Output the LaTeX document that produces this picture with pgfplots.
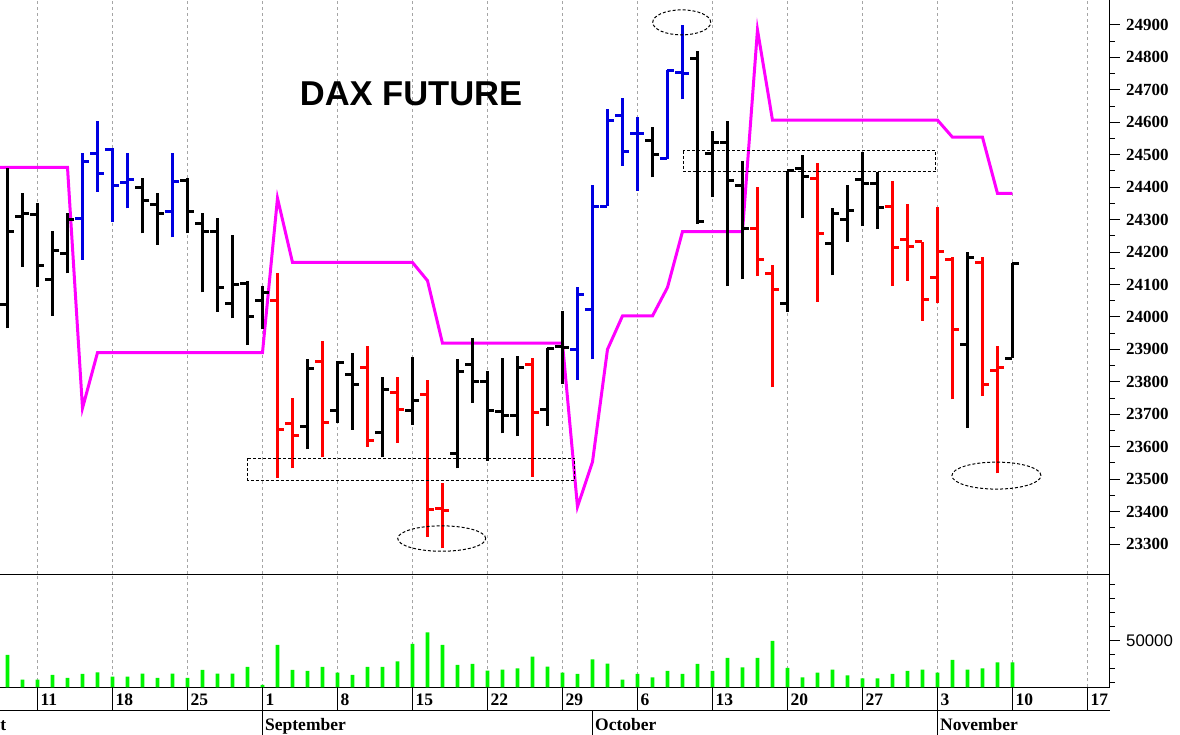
\documentclass[border=0pt]{standalone}
\usepackage{fontspec}
\setmainfont{Liberation Serif}
\newfontfamily\arial{Liberation Sans}
\usepackage{pgfplots}
\usepackage{pgfplotstable}
\pgfplotsset{compat=1.18}

\definecolor{barblue}{RGB}{0,0,225}
\definecolor{barred}{RGB}{255,0,0}
\definecolor{stopmag}{RGB}{255,0,255}
\definecolor{volgreen}{RGB}{0,245,0}
\definecolor{gridgray}{RGB}{165,165,165}

\pgfdeclareplotmark{tickL}{\pgfpathmoveto{\pgfqpoint{-7pt}{0pt}}\pgfpathlineto{\pgfqpoint{0pt}{0pt}}\pgfusepathqstroke}
\pgfdeclareplotmark{tickR}{\pgfpathmoveto{\pgfqpoint{0pt}{0pt}}\pgfpathlineto{\pgfqpoint{7pt}{0pt}}\pgfusepathqstroke}

\pgfplotstableread{
k O H L C
0 24037 24458 23965 24263
1 24310 24381 24155 24318
2 24317 24352 24091 24158
3 24117 24266 24003 24206
4 24196 24319 24134 24299
9 24400 24427 24258 24360
10 24348 24383 24222 24319
12 24422 24427 24258 24325
13 24289 24319 24076 24263
14 24263 24304 24016 24091
15 24040 24253 23996 24101
16 24104 24112 23913 24001
17 24052 24095 23962 24075
20 23662 23869 23592 23842
22 23711 23865 23674 23859
23 23824 23890 23653 23793
25 23643 23816 23567 23775
27 23711 23877 23667 23742
30 23579 23869 23533 23831
31 23855 23934 23736 23800
32 23800 23834 23557 23711
33 23710 23872 23641 23695
34 23695 23880 23633 23845
36 23715 23903 23664 23903
37 23910 24019 23793 23906
43 24543 24585 24430 24502
46 24797 24821 24287 24294
47 24503 24574 24369 24538
48 24537 24605 24095 24422
49 24404 24482 24116 24273
52 24042 24451 24016 24451
53 24458 24499 24304 24434
55 24225 24335 24129 24319
56 24299 24407 24232 24328
57 24425 24509 24280 24412
58 24410 24448 24270 24338
64 23914 24201 23657 24184
67 23872 24165 23872 24165
}\blackbars

\pgfplotstableread{
k O H L C
18 24050 24136 23505 23653
19 23672 23749 23533 23636
21 23862 23927 23567 23674
24 23845 23910 23600 23618
26 23766 23816 23612 23715
28 23762 23806 23323 23407
29 23410 23489 23287 23403
35 23852 23872 23507 23705
50 24273 24402 24126 24178
51 24134 24160 23783 24085
54 24427 24474 24047 24258
59 24342 24420 24095 24215
60 24239 24348 24112 24217
61 24232 24232 23989 24054
62 24122 24340 24042 24201
63 24176 24186 23746 23960
65 24167 24186 23756 23793
66 23834 23910 23518 23845
}\redbars

\pgfplotstableread{
k O H L C
5 24304 24504 24176 24479
6 24504 24605 24386 24441
7 24515 24522 24294 24405
8 24414 24504 24335 24425
11 24325 24504 24245 24417
38 23900 24091 23806 24068
39 24022 24407 23869 24340
40 24342 24640 24342 24605
41 24620 24674 24466 24510
42 24564 24617 24389 24564
44 24489 24761 24486 24761
45 24753 24900 24671 24749
}\bluebars

\pgfplotstableread{
k S
-1 24461
0 24461
1 24461
2 24461
3 24461
4 24461
5 23719
6 23890
17 23890
18 24366
19 24168
27 24168
28 24112
29 23919
37 23919
38 23415
39 23553
40 23900
41 24003
43 24003
44 24091
45 24263
49 24263
50 24885
51 24607
62 24607
63 24554
65 24554
66 24381
67 24381
}\stopline

\pgfplotstableread{
k V
0 39750
1 22055
2 22055
3 25400
4 23250
5 26120
6 27310
7 24210
8 24210
9 26360
10 23250
11 26360
12 23250
13 28990
14 26360
15 26360
16 31140
17 18230
18 46920
19 28990
20 28270
21 31140
22 27080
23 25400
24 31140
25 31140
26 35200
27 47640
28 56010
29 46920
30 32580
31 33290
32 28510
33 29230
34 30180
35 38550
36 31380
37 27080
38 26120
39 36640
40 33530
41 22055
42 26120
43 23730
44 28270
45 26120
46 33290
47 28270
48 37600
49 30900
50 37600
51 49790
52 30420
53 23730
54 27080
55 29230
56 25160
57 23010
58 23010
59 26120
60 28270
61 29230
62 27080
63 36160
64 29230
65 30180
66 34490
67 34490
}\volume

\pgfplotsset{
  op/.style={color=#1, only marks, mark=tickL, mark options={draw=#1, line width=3pt}, forget plot},
  cl/.style={color=#1, only marks, mark=tickR, mark options={draw=#1, line width=3pt}, forget plot},
  hl/.style={color=#1, draw=none, mark=none, forget plot, error bars/.cd, y dir=plus, y explicit, error mark=none, error bar style={draw=#1, line width=3.8pt}},
}
\tikzset{
  annot/.style={draw=black, line width=1pt, dash pattern=on 3pt off 2pt},
  datelab/.style={anchor=base west, inner sep=0pt, xshift=3pt, yshift=-17.7pt, font=\bfseries\fontsize{17.5}{19}\selectfont},
  monthlab/.style={anchor=base west, inner sep=0pt, xshift=2.5pt, yshift=-43.4pt, font=\bfseries\fontsize{17.5}{19}\selectfont},
}

\begin{document}
\begin{tikzpicture}
\useasboundingbox (0,0) rectangle (1180pt,734pt);
% ---------------- price panel ----------------
\begin{axis}[
  at={(0pt,160pt)}, anchor=south west,
  scale only axis, width=1110pt, height=574pt,
  xmin=-0.5, xmax=73.5, ymin=23207.7, ymax=24977,
  axis x line*=bottom, axis y line*=right,
  axis line style={-, line width=1pt, black},
  xtick={2,7,...,72}, xticklabels={}, xmajorgrids,
  major x tick style={draw=none},
  grid style={gridgray, line width=0.9pt, dash pattern=on 3pt off 3pt},
  ytick={23300,23400,...,24900}, minor y tick num=1,
  scaled y ticks=false,
  tick align=outside, major tick length=10pt, minor tick length=5pt,
  tick style={black, line width=1pt},
  yticklabel style={font=\bfseries\fontsize{17}{19}\selectfont, anchor=west, inner sep=0pt, xshift=6pt},
  /pgf/number format/1000 sep={}, /pgf/number format/assume math mode=true,
]
\addplot[stopmag, line width=3pt, forget plot] table[x=k, y=S] {\stopline};

\addplot[hl=black] table[x=k, y=L, y error expr=\thisrow{H}-\thisrow{L}] {\blackbars};
\addplot[op=black] table[x=k, y=O] {\blackbars};
\addplot[cl=black] table[x=k, y=C] {\blackbars};

\addplot[hl=barred] table[x=k, y=L, y error expr=\thisrow{H}-\thisrow{L}] {\redbars};
\addplot[op=barred] table[x=k, y=O] {\redbars};
\addplot[cl=barred] table[x=k, y=C] {\redbars};

\addplot[hl=barblue] table[x=k, y=L, y error expr=\thisrow{H}-\thisrow{L}] {\bluebars};
\addplot[op=barblue] table[x=k, y=O] {\bluebars};
\addplot[cl=barblue] table[x=k, y=C] {\bluebars};

\draw[annot] (axis cs:15.99,23564) rectangle (axis cs:37.83,23497);
\draw[annot] (axis cs:45.05,24511.6) rectangle (axis cs:61.9,24448.4);
\draw[annot] (axis cs:28.95,23317) ellipse [x radius=44pt, y radius=12.7pt];
\draw[annot] (axis cs:44.95,24908) ellipse [x radius=29pt, y radius=12.5pt];
\draw[annot] (axis cs:65.93,23511) ellipse [x radius=44.5pt, y radius=13.5pt];

\node[font=\arial\bfseries\fontsize{34.5}{40}\selectfont] at (rel axis cs:0.3703,0.8374) {DAX FUTURE};
\end{axis}

% ---------------- volume panel ----------------
\begin{axis}[
  at={(0pt,46.7pt)}, anchor=south west,
  scale only axis, width=1110pt, height=113.3pt,
  xmin=-0.5, xmax=73.5, ymin=16556, ymax=97850,
  axis x line*=bottom, axis y line*=right,
  axis line style={-, line width=1pt, black},
  xtick={2,7,...,72}, xticklabels={}, xmajorgrids,
  major x tick style={draw=none},
  grid style={gridgray, line width=0.9pt, dash pattern=on 3pt off 3pt},
  ytick={50000}, minor ytick={20000,30000,40000,60000,70000,80000,90000},
  scaled y ticks=false,
  tick align=outside, major tick length=10pt, minor tick length=5pt,
  tick style={black, line width=1pt},
  yticklabel style={font=\arial\fontsize{16.8}{19}\selectfont, anchor=west, inner sep=0pt, xshift=6pt},
  /pgf/number format/1000 sep={}, /pgf/number format/assume math mode=true,
  clip mode=individual,
]
\addplot[ybar, bar width=3.8pt, bar shift=0pt, fill=volgreen, draw=none] table[x=k, y=V] {\volume};

\draw[line width=1pt] ([yshift=-23.4pt]rel axis cs:0,0) -- ([yshift=-23.4pt]rel axis cs:1,0);
\pgfplotsinvokeforeach{2,7,...,72}{
  \draw[line width=1pt] (axis cs:#1,16556) -- ([yshift=-23.4pt]axis cs:#1,16556);
}
\draw[line width=1pt] ([yshift=-23.4pt]axis cs:17,16556) -- ([yshift=-55pt]axis cs:17,16556);
\draw[line width=1pt] ([yshift=-23.4pt]axis cs:39,16556) -- ([yshift=-55pt]axis cs:39,16556);
\draw[line width=1pt] ([yshift=-23.4pt]axis cs:62,16556) -- ([yshift=-55pt]axis cs:62,16556);

\node[datelab] at (axis cs:2,16556) {11};
\node[datelab] at (axis cs:7,16556) {18};
\node[datelab] at (axis cs:12,16556) {25};
\node[datelab] at (axis cs:17,16556) {1};
\node[datelab] at (axis cs:22,16556) {8};
\node[datelab] at (axis cs:27,16556) {15};
\node[datelab] at (axis cs:32,16556) {22};
\node[datelab] at (axis cs:37,16556) {29};
\node[datelab] at (axis cs:42,16556) {6};
\node[datelab] at (axis cs:47,16556) {13};
\node[datelab] at (axis cs:52,16556) {20};
\node[datelab] at (axis cs:57,16556) {27};
\node[datelab] at (axis cs:62,16556) {3};
\node[datelab] at (axis cs:67,16556) {10};
\node[datelab] at (axis cs:72,16556) {17};

\node[monthlab, anchor=base east, xshift=4pt] at (axis cs:-0.5,16556) {August};
\node[monthlab] at (axis cs:17,16556) {September};
\node[monthlab] at (axis cs:39,16556) {October};
\node[monthlab] at (axis cs:62,16556) {November};
\end{axis}
\end{tikzpicture}
\end{document}
